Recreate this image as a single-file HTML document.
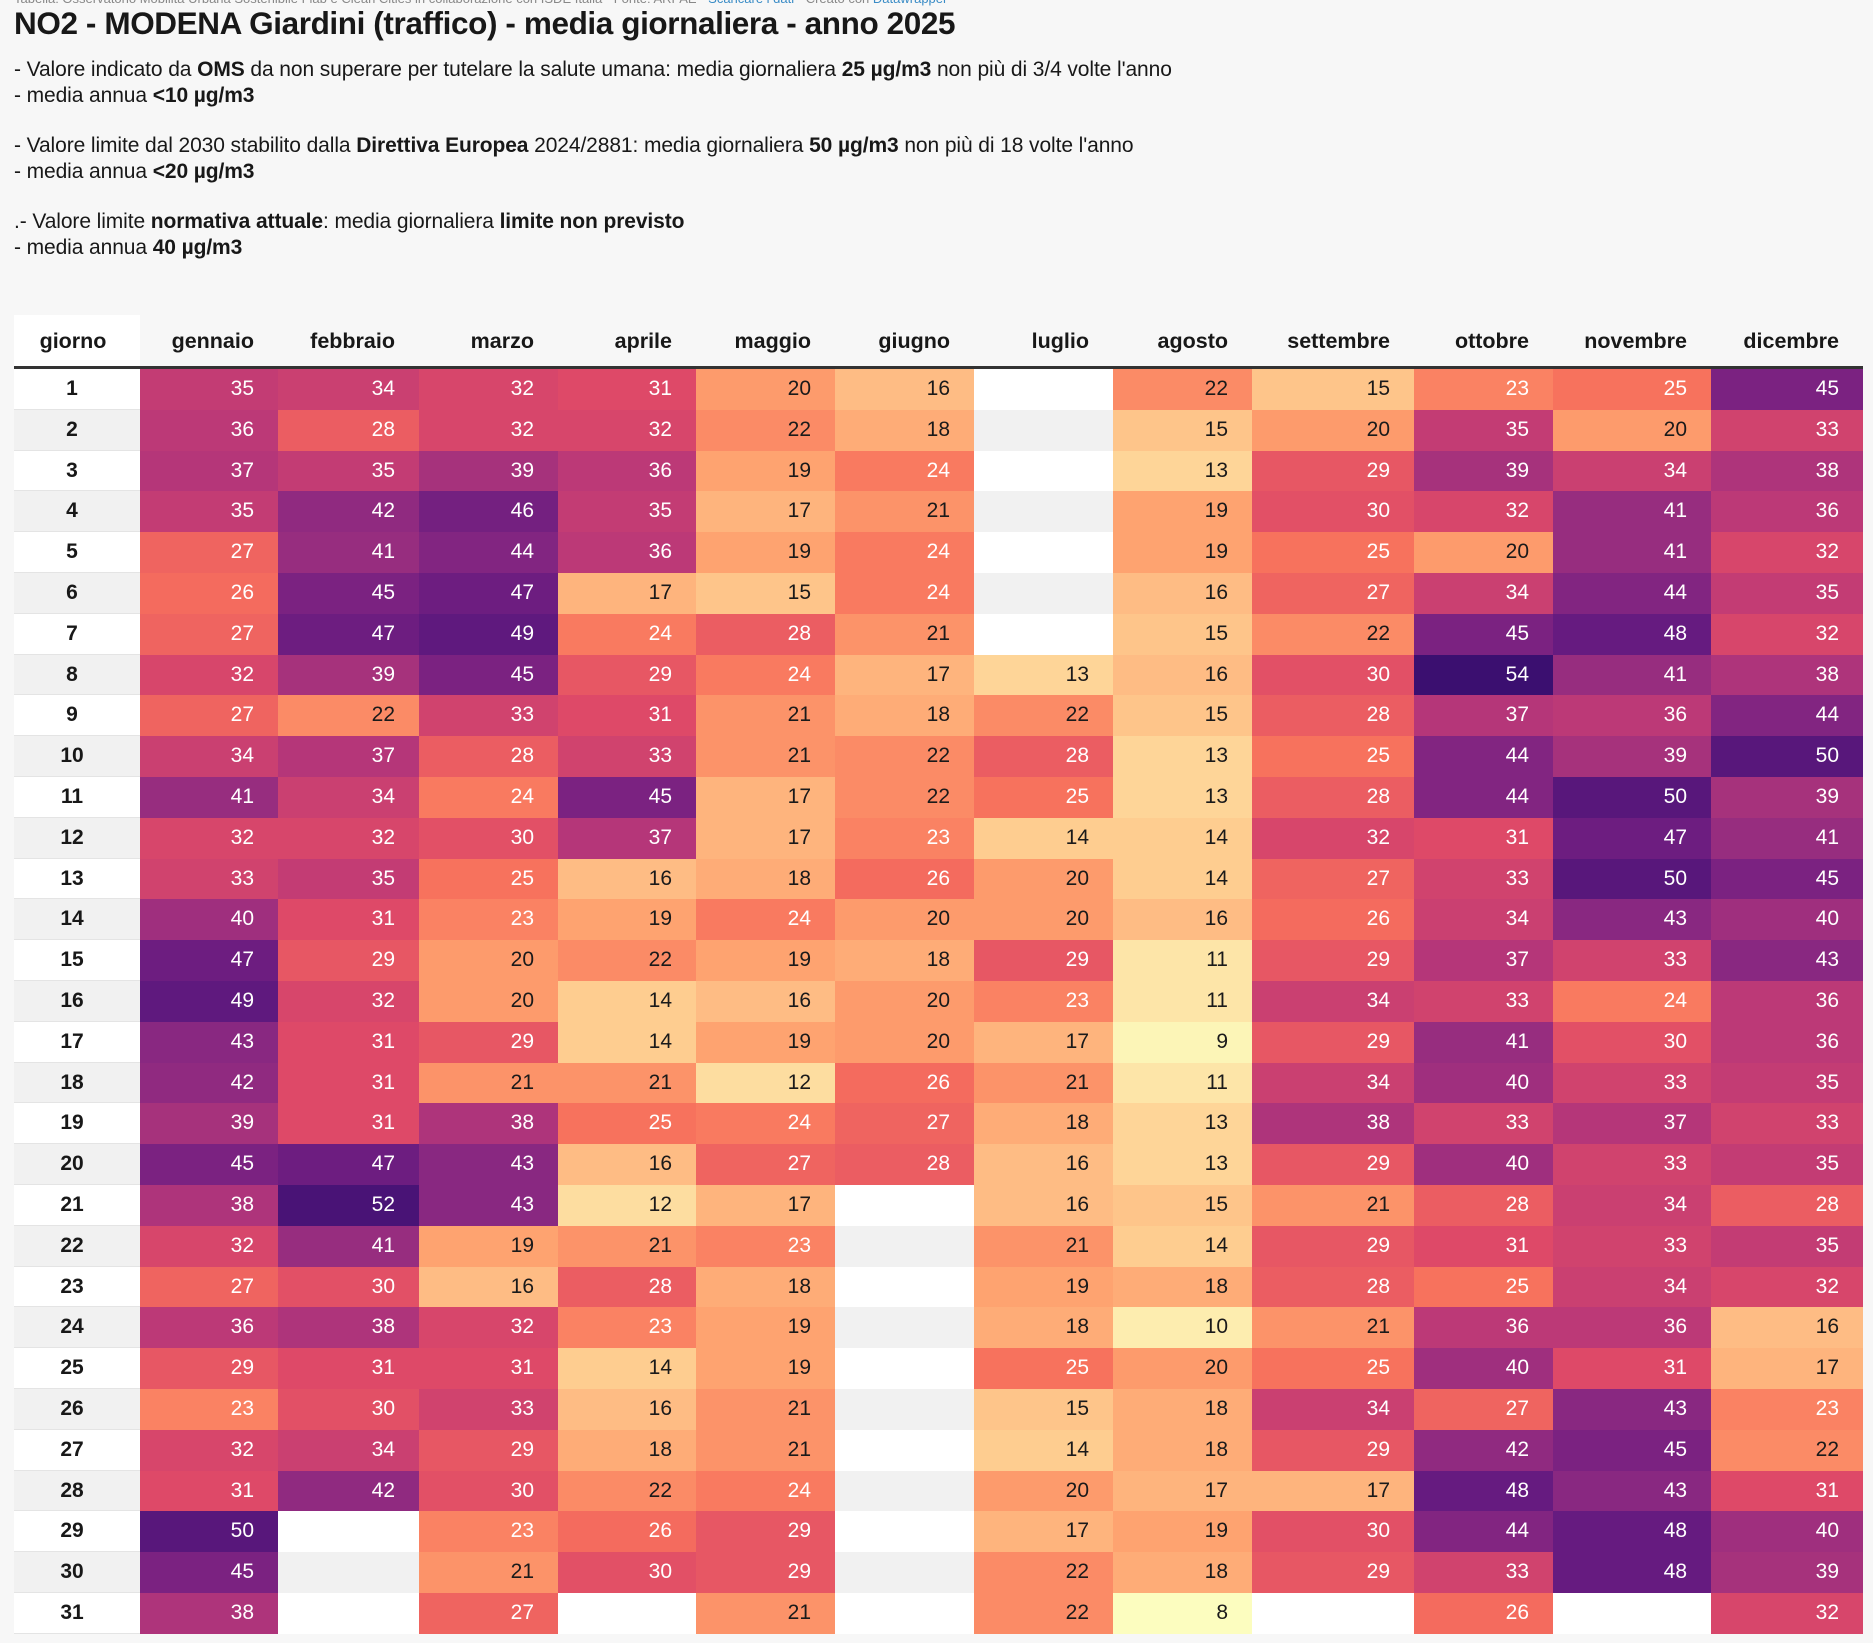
<!DOCTYPE html>
<html><head><meta charset="utf-8">
<style>
html,body{margin:0;padding:0;}
body{width:1873px;height:1643px;background:#f7f7f7;position:relative;overflow:hidden;font-family:"Liberation Sans",sans-serif;color:#181818;}
.t{position:absolute;white-space:nowrap;}
#title{left:14px;top:5px;font-size:31.5px;font-weight:bold;letter-spacing:-0.4px;}
.p{left:14px;font-size:21px;letter-spacing:-0.1px;}
.cell{position:absolute;box-sizing:border-box;font-size:21px;text-align:right;}
.hdr{position:absolute;font-size:21.5px;font-weight:bold;text-align:right;box-sizing:border-box;}
</style></head>
<body>
<div class="t" style="left:14px;top:-9px;font-size:13px;color:#888">Tabella: Osservatorio Mobilità Urbana Sostenibile Fiab e Clean Cities in collaborazione con ISDE Italia · Fonte: ARPAE · <span style="color:#3a8cc6">Scaricare i dati</span> · Creato con <span style="color:#3a8cc6">Datawrapper</span></div>
<div class="t" id="title">NO2 - MODENA Giardini (traffico) - media giornaliera - anno 2025</div>
<div class="t p" style="top:58px">- Valore indicato da <b>OMS</b> da non superare per tutelare la salute umana: media giornaliera <b>25 µg/m3</b> non più di 3/4 volte l'anno</div>
<div class="t p" style="top:84px">- media annua <b>&lt;10 µg/m3</b></div>
<div class="t p" style="top:134px">- Valore limite dal 2030 stabilito dalla <b>Direttiva Europea</b> 2024/2881: media giornaliera <b>50 µg/m3</b> non più di 18 volte l'anno</div>
<div class="t p" style="top:160px">- media annua <b>&lt;20 µg/m3</b></div>
<div class="t p" style="top:210px">.- Valore limite <b>normativa attuale</b>: media giornaliera <b>limite non previsto</b></div>
<div class="t p" style="top:236px">- media annua <b>40 µg/m3</b></div>
<div id="table"></div>
<script>
const months = ["gennaio","febbraio","marzo","aprile","maggio","giugno","luglio","agosto","settembre","ottobre","novembre","dicembre"];
const N = null;
const gennaio = [35,36,37,35,27,26,27,32,27,34,41,32,33,40,47,49,43,42,39,45,38,32,27,36,29,23,32,31,50,45,38];
const febbraio = [34,28,35,42,41,45,47,39,22,37,34,32,35,31,29,32,31,31,31,47,52,41,30,38,31,30,34,42,N,N,N];
const marzo = [32,32,39,46,44,47,49,45,33,28,24,30,25,23,20,20,29,21,38,43,43,19,16,32,31,33,29,30,23,21,27];
const aprile = [31,32,36,35,36,17,24,29,31,33,45,37,16,19,22,14,14,21,25,16,12,21,28,23,14,16,18,22,26,30,N];
const maggio = [20,22,19,17,19,15,28,24,21,21,17,17,18,24,19,16,19,12,24,27,17,23,18,19,19,21,21,24,29,29,21];
const giugno = [16,18,24,21,24,24,21,17,18,22,22,23,26,20,18,20,20,26,27,28,N,N,N,N,N,N,N,N,N,N,N];
const luglio = [N,N,N,N,N,N,N,13,22,28,25,14,20,20,29,23,17,21,18,16,16,21,19,18,25,15,14,20,17,22,22];
const agosto = [22,15,13,19,19,16,15,16,15,13,13,14,14,16,11,11,9,11,13,13,15,14,18,10,20,18,18,17,19,18,8];
const settembre = [15,20,29,30,25,27,22,30,28,25,28,32,27,26,29,34,29,34,38,29,21,29,28,21,25,34,29,17,30,29,N];
const ottobre = [23,35,39,32,20,34,45,54,37,44,44,31,33,34,37,33,41,40,33,40,28,31,25,36,40,27,42,48,44,33,26];
const novembre = [25,20,34,41,41,44,48,41,36,39,50,47,50,43,33,24,30,33,37,33,34,33,34,36,31,43,45,43,48,48,N];
const dicembre = [45,33,38,36,32,35,32,38,44,50,39,41,45,40,43,36,36,35,33,35,28,35,32,16,17,23,22,31,40,39,32];
const series = [gennaio,febbraio,marzo,aprile,maggio,giugno,luglio,agosto,settembre,ottobre,novembre,dicembre];

const edges=[14,140,278,419,558,696,835,974,1113,1252,1414,1553,1711,1863];
const rowTop=369,rowH=40.8;
const magma=["#000004","#140e36","#3b0f70","#641a80","#8c2981","#b73779","#de4968","#f7705c","#fe9f6d","#fecf92","#fcfdbf"];
function hex(h){return [1,3,5].map(i=>parseInt(h.substr(i,2),16));}
function color(v){
  let t=1-(v-8)/46*0.8; t=Math.max(0,Math.min(1,t));
  const p=t*10,i=Math.min(9,Math.floor(p)),f=p-i;
  const a=hex(magma[i]),b=hex(magma[i+1]);
  return "rgb("+a.map((x,k)=>Math.round(x+(b[k]-x)*f)).join(",")+")";
}
const tb=document.getElementById('table');
function add(el){tb.appendChild(el);return el;}
let h=document.createElement('div');h.className='hdr';


h.style.cssText=`left:${edges[0]}px;top:315px;width:${edges[1]-edges[0]}px;height:52px;background:#fff;text-align:center;line-height:52px;padding-right:8px;`;
h.textContent='giorno';add(h);
months.forEach((m,j)=>{
  const d=document.createElement('div');d.className='hdr';
  
  
  d.style.cssText=`left:${edges[j+1]}px;top:315px;width:${edges[j+2]-edges[j+1]}px;height:52px;line-height:52px;padding-right:24px;`;
  d.textContent=m;add(d);
});
const line=document.createElement('div');


line.style.cssText=`position:absolute;left:14px;top:366px;width:1849px;height:3px;background:#333;`;
add(line);
for(let r=0;r<31;r++){
  const top=rowTop+r*rowH, stripe=r%2===0?'#ffffff':'#f1f1f1';
  const dc=document.createElement('div');dc.className='cell';
  
  
  dc.style.cssText=`left:${edges[0]}px;top:${top}px;width:${edges[1]-edges[0]}px;height:${rowH}px;line-height:${rowH}px;text-align:center;font-weight:bold;background:${stripe};border-bottom:1px solid #e4e4e4;padding-right:10px;`;
  dc.textContent=r+1;add(dc);
  series.forEach((s,j)=>{
    const v=s[r];
    const c=document.createElement('div');c.className='cell';
    
    
    const bg=v==null?stripe:color(v);
    const fg=v!=null&&v>=23?'#fff':'#1a1a1a';
    c.style.cssText=`left:${edges[j+1]}px;top:${top}px;width:${edges[j+2]-edges[j+1]}px;height:${rowH}px;line-height:${rowH}px;padding-right:24px;background:${bg};color:${fg};`;
    c.textContent=v==null?'':v;add(c);
  });
}
</script>
</body></html>
